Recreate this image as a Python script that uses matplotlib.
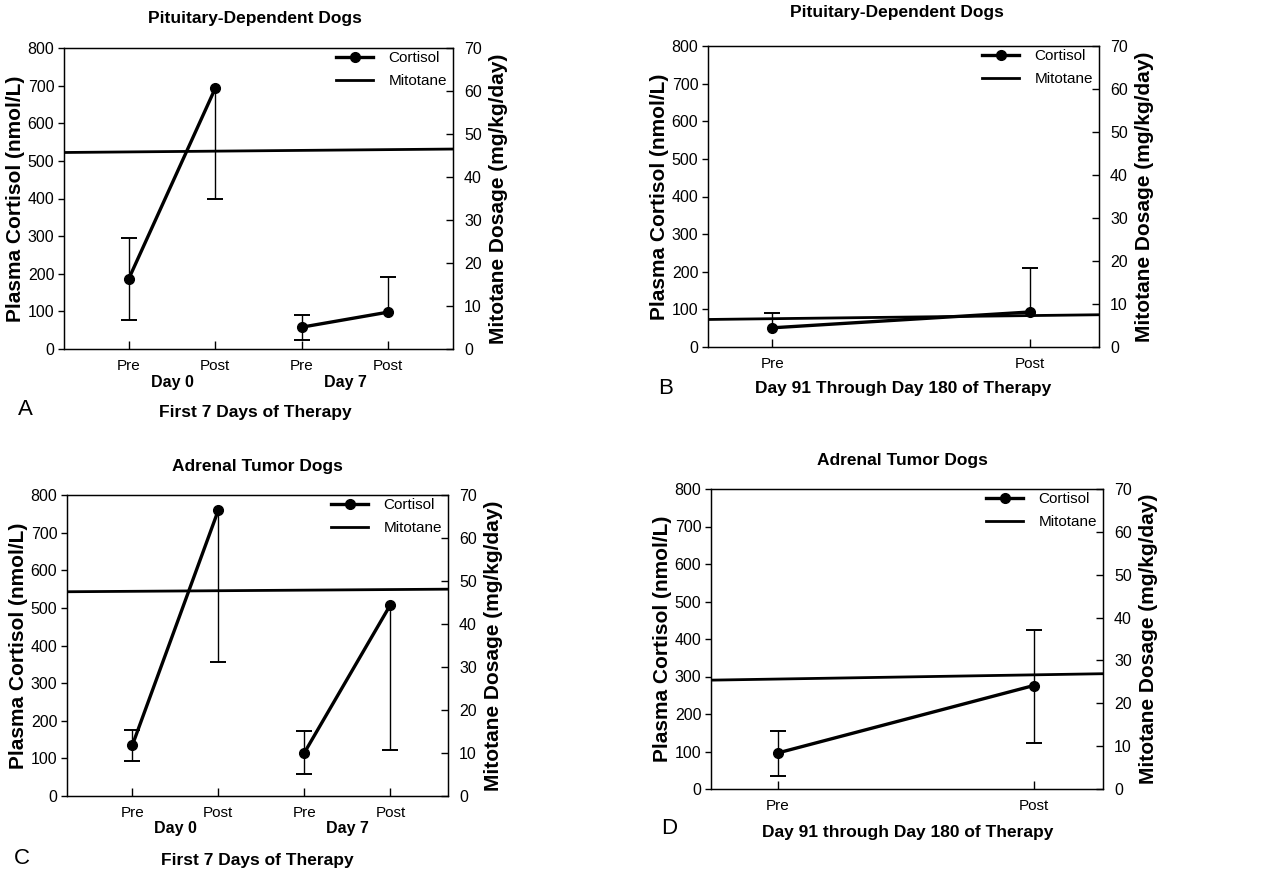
"""Plasma cortisol and mitotane dosage during therapy (four panels A-D)."""

import numpy as np
import matplotlib

matplotlib.use("Agg")
import matplotlib.pyplot as plt

plt.rcParams["font.family"] = ["Liberation Sans", "DejaVu Sans"]

W, H = 1277, 874

# --- data ----------------------------------------------------------------
cat_first7 = ["Pre", "Post", "Pre", "Post"]
cat_late = ["Pre", "Post"]

# panel A: pituitary-dependent, first 7 days
a_cortisol = [187, 693, 58, 98]
a_low = [77, 398, 24, np.nan]
a_high = [296, np.nan, 90, 192]
a_mitotane = [45.7, 46.5]  # dose at start / end of the period

# panel B: pituitary-dependent, day 91-180
b_cortisol = [51, 93]
b_low = [np.nan, np.nan]
b_high = [91, 209]
b_mitotane = [6.4, 7.5]

# panel C: adrenal tumour, first 7 days
c_cortisol = [135, 760, 115, 508]
c_low = [93, 355, 58, 122]
c_high = [175, np.nan, 173, np.nan]
c_mitotane = [47.5, 48.1]

# panel D: adrenal tumour, day 91-180
d_cortisol = [96, 276]
d_low = [34, 123]
d_high = [156, 425]
d_mitotane = [25.4, 26.9]


def px_axes(fig, left, top, right, bottom):
    return fig.add_axes([left / W, 1 - bottom / H, (right - left) / W, (bottom - top) / H])


def ftext(fig, x, y, s, **kw):
    fig.text(x / W, 1 - y / H, s, ha="center", va="center", **kw)


def panel(fig, box, xlim, cats, cortisol, low, high, mitotane):
    ax = px_axes(fig, *box)
    x = np.arange(1, len(cats) + 1)
    # error bars (one-sided where the original shows only one side)
    for xi, m, lo, hi in zip(x, cortisol, low, high):
        lo_v = m if np.isnan(lo) else lo
        hi_v = m if np.isnan(hi) else hi
        ax.vlines(xi, lo_v, hi_v, color="black", lw=1)
        caps = [v for v in (lo, hi) if not np.isnan(v)]
        ax.plot([xi] * len(caps), caps, ls="none", marker="_", ms=11.5, mew=1.4, color="black")
    # cortisol segments: Pre -> Post per day
    for i in range(0, len(cats), 2):
        ax.plot(x[i:i + 2], cortisol[i:i + 2], color="black", lw=2.4,
                marker="o", ms=7, label="Cortisol" if i == 0 else None)
    ax.set_xlim(*xlim)
    ax.set_ylim(0, 800)
    ax.set_yticks(range(0, 801, 100))
    ax.set_xticks(x)
    ax.set_xticklabels(cats, fontsize=11)
    ax.tick_params(axis="x", direction="in", length=6, width=1, pad=7)
    ax.tick_params(axis="y", direction="out", length=4, width=1, labelsize=11.5, pad=3)
    ax.set_ylabel("Plasma Cortisol (nmol/L)", fontsize=15, fontweight="bold", labelpad=2)

    ax2 = ax.twinx()
    ax2.plot(xlim, mitotane, color="black", lw=2, label="Mitotane")
    ax2.set_ylim(0, 70)
    ax2.set_yticks(range(0, 71, 10))
    ax2.tick_params(axis="y", direction="in", length=5, width=1, labelsize=11.5, pad=8)
    ax2.set_ylabel("Mitotane Dosage (mg/kg/day)", fontsize=15, fontweight="bold", labelpad=5)
    ax2.set_xlim(*xlim)

    for a in (ax, ax2):
        for sp in a.spines.values():
            sp.set_linewidth(0.9)

    h1, l1 = ax.get_legend_handles_labels()
    h2, l2 = ax2.get_legend_handles_labels()
    ax2.legend(h1 + h2, l1 + l2, loc="upper right", bbox_to_anchor=(1.0, 1.01),
               frameon=False, fontsize=11, handlelength=2.4, handletextpad=1.0,
               borderaxespad=0.0, labelspacing=0.6)
    return ax


fig = plt.figure(figsize=(W / 100, H / 100), dpi=100)

panel(fig, (64, 48, 453, 349), (0.25, 4.75), cat_first7, a_cortisol, a_low, a_high, a_mitotane)
panel(fig, (708, 46, 1099, 347), (0.75, 2.27), cat_late, b_cortisol, b_low, b_high, b_mitotane)
panel(fig, (67, 495, 448, 796), (0.24, 4.67), cat_first7, c_cortisol, c_low, c_high, c_mitotane)
panel(fig, (711, 489, 1103, 789), (0.74, 2.27), cat_late, d_cortisol, d_low, d_high, d_mitotane)

bold = dict(fontsize=12.5, fontweight="bold")
day = dict(fontsize=11.5, fontweight="bold")

ftext(fig, 255, 19, "Pituitary-Dependent Dogs", **bold)
ftext(fig, 172, 383, "Day 0", **day)
ftext(fig, 345, 383, "Day 7", **day)
ftext(fig, 255, 412, "First 7 Days of Therapy", **bold)
ftext(fig, 25, 410, "A", fontsize=16)

ftext(fig, 897, 13, "Pituitary-Dependent Dogs", **bold)
ftext(fig, 903, 388, "Day 91 Through Day 180 of Therapy", **bold)
ftext(fig, 666, 388, "B", fontsize=16)

ftext(fig, 257, 467, "Adrenal Tumor Dogs", **bold)
ftext(fig, 175, 829, "Day 0", **day)
ftext(fig, 347, 829, "Day 7", **day)
ftext(fig, 257, 861, "First 7 Days of Therapy", **bold)
ftext(fig, 22, 858, "C", fontsize=16)

ftext(fig, 902, 460, "Adrenal Tumor Dogs", **bold)
ftext(fig, 908, 832, "Day 91 through Day 180 of Therapy", **bold)
ftext(fig, 669, 828, "D", fontsize=16)

fig.savefig("out.png", dpi=100)
